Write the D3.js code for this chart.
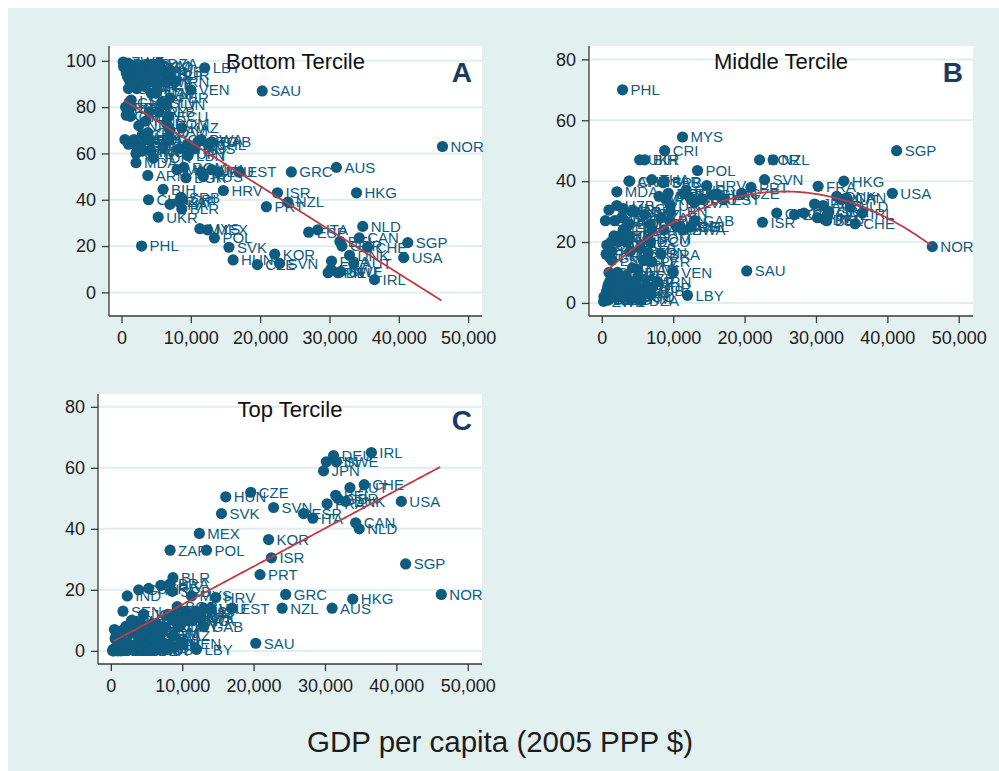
<!DOCTYPE html>
<html>
<head>
<meta charset="utf-8">
<script src="https://cdn.jsdelivr.net/npm/d3@7"></script>
<style>
  html, body { margin: 0; padding: 0; background: #ffffff; }
  svg { display: block; font-family: "Liberation Sans", Arial, Helvetica, sans-serif; }
</style>
</head>
<body>
<svg id="chart" width="999" height="771"></svg>
<script>
// Country codes, GDP per capita (2005 PPP $) and population share (%) in each tercile
const countries = [
  "BDI","COD","LBR","ZWE","NER","ETH","MWI","SLE","MOZ","TGO","AFG","RWA","MDG","MLI","GIN","UGA","BFA","TZA","HTI","ZMB",
  "BGD","TCD","BEN","KHM","TJK","CIV","LAO","MRT","NGA","SDN","PNG","CMR","DJI","VNM","PAK","YEM","IRQ","IDN","MAR","BTN",
  "SYR","TKM","GTM","AGO","SWZ","EGY","AZE","NAM","DZA","CUB","SUR","IRN","VEN","LBY","SAU",
  "ERI","CAF","GMB","KEN","GHA","LSO","NIC","HND","PRY","ALB","SLV","TUN","DOM","ECU","PER","KAZ",
  "GNB","NPL","SEN","KGZ","UZB","MDA","IND","GUY","MNG","CPV","LKA","BOL","GEO","FJI","JOR","BLZ","COL","JAM","BRA","PAN",
  "URY","LBN","MUS","ARG","BWA","CHL","GAB",
  "ARM","MKD","ROM","BGR","TUR","RUS","LVA","LTU","EST",
  "CHN","BIH","THA","ZAF","BLR","SRB","CRI","HRV",
  "PHL","UKR","MYS","MEX","POL",
  "NOR","SGP","USA","IRL","CHE","NLD","CAN","HKG","AUT","DNK","GBR","SWE","BEL","DEU","AUS","FRA","FIN","JPN","ITA","ESP",
  "GRC","NZL","SVN","ISR","KOR","PRT","CZE","HUN","SVK"
];
const gdpPerCapita = [
  400,300,500,250,600,650,700,750,800,850,900,900,950,1000,1000,1050,1100,1150,1200,1250,
  1300,1400,1450,1600,1650,1700,1800,1900,1950,2000,2000,2150,2200,2300,2400,2500,3000,3300,3700,4000,
  4100,4200,4300,4400,4500,4600,5000,5000,5500,6000,7000,7800,10000,12000,20300,
  600,700,1100,1400,1300,1400,2500,3500,4000,5400,5800,6500,6500,6800,7000,8700,
  500,1000,1700,1800,2100,2100,2300,2800,3000,3000,3500,3800,3800,4200,4600,6000,6800,7000,8300,9500,
  9600,9600,10500,11000,11500,12500,13000,
  3800,8000,9000,9300,11500,11800,13000,14000,17000,
  3900,6000,7000,8300,8700,8600,8800,14700,
  2900,5300,11300,12400,13400,
  46300,41300,40700,36500,35500,34800,34300,33900,33500,32900,31800,31600,31500,31200,31000,30300,30200,29800,28300,27000,
  24500,24000,22800,22500,22100,20900,19600,16100,15500
];
const bottomShare = [
  99,97.5,98,99.5,98.5,96,95,97,94,96,98.5,93,99,96.5,88,95.5,92,94,97,91,
  97.5,98,93,90,96,96,95,97,94.5,92,96,89,88,91,95.5,97,94,89,92.5,95.5,
  95,98,86,97.5,91,93,90,86,99,95.5,94,91,87.5,97,87,
  80,76.5,82,80,76,83,72,74,78,78,82,81,73,76,84,71,
  66,64,65,66,60,56,62,63,61,68,67,66,69,61,58,63,66,70,62,64,
  60,59,62,65,66,64,65,
  50.5,53,54,49.5,52,50,53,52,52,
  40,44.5,38,39,36,41,40,44,
  20,32.5,27.5,27,23.5,
  63,21.5,15,5.5,19.5,28.5,23.5,43,12.5,16,20,9,22,8.5,54,13.5,10,8.5,27,26,
  52,39,12.5,43,16.5,37,12,14,19.5
];
const middleShare = [
  1,2,1.5,0.5,1,3.5,4,2.5,5,3.5,1,6,1,3,10,4,7,5,2.5,7.5,
  2,2,6,8,3.5,3.5,4,2.5,4.5,6.5,3,9,10,7.5,4,2.5,5,9,6,3.5,
  4.5,1.5,11.5,2,7,6,8,11,0.8,4,5,7,10,2.5,10.5,
  16,19,15,17,20,14,22,20,17,18,14,16.5,21,20,13.5,24,
  27,30.5,22,27,32,36.5,20,28,31,24,25,26,22,30,30,29,26,24,16,27,
  32,30,25,25,24,25,27,
  40,35,34,36,36,37,33,34,34,
  40,47,40.5,28,40,39.5,50,38.5,
  70,47,54.5,34.5,43.5,
  18.5,50,36,29.5,26,31.5,34.5,40,34,35,30,29,27,27.5,32,38.3,28,32.5,29.5,29,
  29.5,47,40.5,26.5,47,38,36,35.5,35.5
];
const topShare = [
  0,0.5,0.5,0,0.5,0.5,1,0.5,1,0.5,0.5,1,0,0.5,2,0.5,1,1,0.5,1.5,
  0.5,0,1,2,0.5,0.5,1,0.5,1,1.5,1,2,2,1.5,0.5,0.5,1,2,1.5,1,
  0.5,0.5,2.5,0.5,2,1,2,3,0.2,0.5,1,2,2.5,0.5,2.5,
  4,4.5,3,3,4,3,6,6,5,4,4,2.5,6,4,2.5,5,
  7,5.5,13,7,8,7.5,18,9,8,8,8,8,9,9,12,8,8,6,22,9,
  8,11,13,10,10,11,8,
  9.5,12,12,14.5,12,13,14,14,14,
  20,8.5,21.5,33,24,19.5,10,17.5,
  10,20.5,18,38.5,33,
  18.5,28.5,49,65,54.5,40,42,17,53.5,49,50,62,51,64,14,48.2,62,59,43.5,45,
  18.5,14,47,30.5,36.5,25,52,50.5,45
];

// Axis ticks
const xTickValues = [0, 10000, 20000, 30000, 40000, 50000];
const yTicksBottom = [0, 20, 40, 60, 80, 100];
const yTicksMiddle = [0, 20, 40, 60, 80];
const yTicksTop = [0, 20, 40, 60, 80];

// Fitted curves (GDP in thousands): linear, quadratic, linear
const fitBottom = [83.7, -1.89];
const fitMiddle = [9.15, 2.1465, -0.04195];
const fitTop = [2.7, 1.248];
const fitRange = [400, 46300];

const xTitle = "GDP per capita (2005 PPP $)";

const data = countries.map((c, i) => ({
  code: c, gdp: gdpPerCapita[i],
  bottom: bottomShare[i], middle: middleShare[i], top: topShare[i]
}));

const poly = coef => x => coef.reduce((s, c, k) => s + c * Math.pow(x / 1000, k), 0);

const panels = [
  { key: "bottom", title: "Bottom Tercile", tag: "A", box: [109, 46, 482, 316],
    yDomain: [-10.2, 106.4], yTicks: yTicksBottom, fit: poly(fitBottom) },
  { key: "middle", title: "Middle Tercile", tag: "B", box: [589, 46, 973, 316],
    yDomain: [-4.3, 84.4], yTicks: yTicksMiddle, fit: poly(fitMiddle) },
  { key: "top", title: "Top Tercile", tag: "C", box: [98, 394, 482, 664],
    yDomain: [-4.3, 84.2], yTicks: yTicksTop, fit: poly(fitTop) }
];

const BG = "#e3f0f0";
const GRID = "#e1eeee";
const MARK = "#0f5c80";
const FIT = "#c23b44";
const AXIS = "#3a3a3a";
const TEXT = "#1c1c1c";

const svg = d3.select("#chart");
svg.append("rect").attr("x", 8).attr("y", 8).attr("width", 991).attr("height", 763).attr("fill", BG);

panels.forEach(p => {
  const [x0, y0, x1, y1] = p.box;
  const x = d3.scaleLinear().domain([-1800, 52000]).range([x0, x1]);
  const y = d3.scaleLinear().domain(p.yDomain).range([y1, y0]);
  const g = svg.append("g");

  g.append("rect").attr("x", x0).attr("y", y0).attr("width", x1 - x0).attr("height", y1 - y0).attr("fill", "#ffffff");

  // horizontal grid
  g.selectAll(".grid").data(p.yTicks).join("line")
    .attr("x1", x0).attr("x2", x1)
    .attr("y1", d => y(d)).attr("y2", d => y(d))
    .attr("stroke", GRID).attr("stroke-width", 2);

  // axes
  const yAxis = d3.axisLeft(y).tickValues(p.yTicks).tickSize(7).tickPadding(6).tickFormat(d3.format("d"));
  const xAxis = d3.axisBottom(x).tickValues(xTickValues).tickSize(7).tickPadding(8).tickFormat(d3.format(","));
  const ya = g.append("g").attr("transform", `translate(${x0},0)`).call(yAxis);
  const xa = g.append("g").attr("transform", `translate(0,${y1})`).call(xAxis);
  [ya, xa].forEach(a => {
    a.select(".domain").attr("stroke", AXIS).attr("stroke-width", 1.3);
    a.selectAll(".tick line").attr("stroke", AXIS).attr("stroke-width", 1.3);
    a.selectAll(".tick text").attr("fill", TEXT).style("font-size", "18px")
      .style("font-family", "'Liberation Sans', Arial, sans-serif");
  });
  ya.select(".domain").attr("d", `M0,${y0}V${y1}`);
  xa.select(".domain").attr("d", `M${x0},0H${x1}`);

  // labelled markers
  const pts = g.selectAll(".pt").data(data).join("g")
    .attr("transform", d => `translate(${x(d.gdp)},${y(d[p.key])})`);
  pts.append("circle").attr("r", 5.6).attr("fill", MARK);
  pts.append("text").text(d => d.code)
    .attr("x", 8).attr("dy", "0.36em")
    .attr("fill", MARK).style("font-size", "15px");

  // fitted curve
  const xs = d3.range(fitRange[0], fitRange[1] + 1, 250);
  g.append("path")
    .attr("d", d3.line().x(v => x(v)).y(v => y(p.fit(v)))(xs))
    .attr("fill", "none").attr("stroke", FIT).attr("stroke-width", 1.8);

  // titles
  g.append("text").attr("x", (x0 + x1) / 2).attr("y", y0 + 23)
    .attr("text-anchor", "middle").attr("fill", "#111").style("font-size", "22px").text(p.title);
  g.append("text").attr("x", x1 - 10).attr("y", y0 + 36)
    .attr("text-anchor", "end").attr("fill", "#1b3a66")
    .style("font-size", "28px").style("font-weight", "bold").text(p.tag);
});

svg.append("text").attr("x", 500).attr("y", 752).attr("text-anchor", "middle")
  .attr("fill", TEXT).style("font-size", "29.5px").text(xTitle);
</script>
</body>
</html>
